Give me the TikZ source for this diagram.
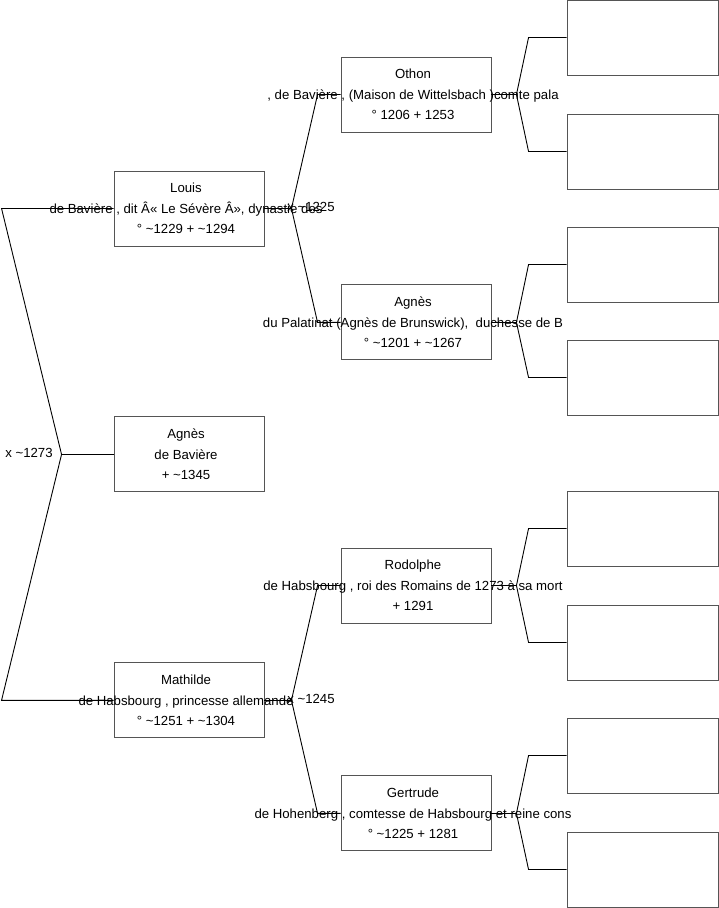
\documentclass[tikz,border=0pt]{standalone}
\usepackage{fontspec}
\setmainfont{Liberation Sans}
\usetikzlibrary{positioning}
\definecolor{frame}{HTML}{555555}
\newcommand{\ca}{\textasciitilde}
\tikzset{
  person/.style={
    draw=frame, fill=white, line width=0.9pt,
    minimum width=150pt, minimum height=75pt, inner sep=0pt
  },
  blank/.style={person, minimum width=151pt},
  who/.style={align=center, inner sep=0pt, xshift=-3pt, font=\fontsize{13.2}{20.5}\selectfont},
  wed/.style={inner sep=0pt, font=\fontsize{13.2}{15}\selectfont},
  link/.style={draw=black, line width=0.9pt}
}

\begin{document}
\begin{tikzpicture}[x=1pt, y=-1pt]
  \useasboundingbox (0,0) rectangle (719,908);

  % first generation
  \node[person] (louis) at (189,208.5) {};
  \node[person, below=170pt of louis] (agnes) {};
  \node[person, below=170pt of agnes] (mathilde) {};

  % second generation
  \node[person] (othon) at (416,94.5) {};
  \node[person, below=152pt of othon] (agnespal) {};
  \node[person] (rodolphe) at (416,585.5) {};
  \node[person, below=152pt of rodolphe] (gertrude) {};

  % third generation, left empty
  \foreach \p/\y/\s in {othon/37.5/a, othon/151.5/b, agnespal/264.5/a, agnespal/377.5/b,
                        rodolphe/528.5/a, rodolphe/642.5/b, gertrude/755.5/a, gertrude/869.5/b}
    \node[blank] (\p-\s) at (642.5,\y) {};

  % texts
  \node[who] (louis-t) at (louis) {Louis\\de Bavière , dit Â« Le Sévère Â», dynastie des\\° \ca1229 + \ca1294};
  \node[who] (agnes-t) at (agnes) {Agnès\\de Bavière\\ + \ca1345};
  \node[who] (mathilde-t) at (mathilde) {Mathilde\\de Habsbourg , princesse allemande\\° \ca1251 + \ca1304};
  \node[who] (othon-t) at (othon) {Othon\\, de Bavière , (Maison de Wittelsbach )comte pala\\° 1206 + 1253};
  \node[who] (agnespal-t) at (agnespal) {Agnès\\du Palatinat (Agnès de Brunswick),\ \ duchesse de B\\° \ca1201 + \ca1267};
  \node[who] (rodolphe-t) at (rodolphe) {Rodolphe\\de Habsbourg , roi des Romains de 1273 à sa mort\\+ 1291};
  \node[who] (gertrude-t) at (gertrude) {Gertrude\\de Hohenberg , comtesse de Habsbourg et reine cons\\° \ca1225 + 1281};

  \node[wed] (wed0) at (29,453) {x \ca1273};
  \node[wed] (wed1) at (311,206.5) {x \ca1225};
  \node[wed] (wed2) at (311,698.5) {x \ca1245};

  % connectors
  \coordinate (f0) at ([xshift=-52pt]agnes.west);
  \draw[link] (louis.west) -- ([xshift=-112pt]louis.west) -- (f0)
    -- ([xshift=-112pt]mathilde.west) -- (mathilde.west);
  \draw[link] (f0) -- (agnes.west);

  \draw[link] (louis.east) -- ++(27,0) coordinate (f1);
  \draw[link] (othon.west) -- ([xshift=-23pt]othon.west) -- (f1)
    -- ([xshift=-23pt]agnespal.west) -- (agnespal.west);
  \draw[link] (mathilde.east) -- ++(27,0) coordinate (f2);
  \draw[link] (rodolphe.west) -- ([xshift=-23pt]rodolphe.west) -- (f2)
    -- ([xshift=-23pt]gertrude.west) -- (gertrude.west);

  \foreach \p in {othon, agnespal, rodolphe, gertrude} {
    \draw[link] (\p.east) -- ++(25,0) coordinate (f-\p);
    \draw[link] (\p-a.west) -- ([xshift=-38pt]\p-a.west) -- (f-\p)
      -- ([xshift=-38pt]\p-b.west) -- (\p-b.west);
  }
\end{tikzpicture}
\end{document}
